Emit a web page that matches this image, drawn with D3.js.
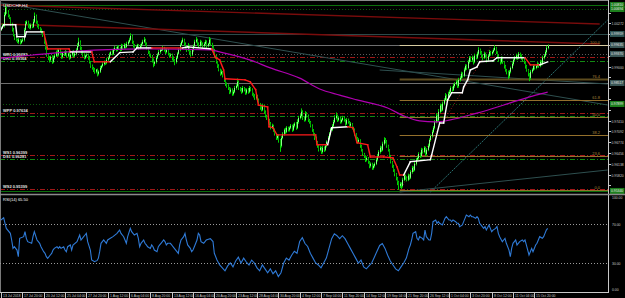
<!DOCTYPE html>
<html>
<head>
<meta charset="utf-8">
<script src="https://cdn.jsdelivr.net/npm/d3@7"></script>
<style>
html, body { margin: 0; padding: 0; background: #000; overflow: hidden; }
svg { display: block; }
text { font-family: "Liberation Sans", Arial, sans-serif; }
</style>
</head>
<body>
<svg width="625" height="298"></svg>
<script>
// USDCHF H4 closes, in pips above 0.95000 (one per bar)
const openFirst = 510;
const closePips = [
  514,520,552,573,561,549,543,526, 508,493,484,479,473,479,470,476,
  479,508,526,532,520,514,523,517, 532,549,532,520,514,508,502,493,
  473,455,435,426,420,429,414,426, 432,443,435,449,438,429,441,435,
  443,432,438,426,435,443,432,438, 449,461,473,455,443,435,426,432,
  435,426,414,402,396,391,385,391, 379,385,396,402,408,414,411,420,
  426,435,443,438,449,455,449,458, 455,449,461,455,464,458,467,473,
  479,490,473,461,455,458,464,455, 461,467,473,479,467,455,443,435,
  432,420,408,414,426,435,443,449, 449,455,449,443,449,438,432,435,
  426,420,414,426,438,449,464,473, 479,467,455,449,461,443,435,449,
  461,473,479,467,461,473,467,461, 467,473,461,467,479,467,461,449,
  432,414,402,391,379,385,373,361, 349,343,337,326,332,320,326,337,
  343,355,337,332,326,337,332,323, 332,326,337,332,320,314,308,314,
  302,291,279,273,285,267,255,249, 243,232,220,226,214,202,190,196,
  184,167,190,202,214,208,220,214, 220,226,214,226,232,220,237,249,
  255,267,249,243,261,255,243,237, 226,214,202,190,179,167,155,161,
  149,161,155,167,179,190,202,214, 226,237,249,255,243,249,237,243,
  249,243,232,243,237,226,232,220, 214,202,190,179,184,167,155,143,
  137,126,131,120,108,114,102,108, 114,126,137,149,161,155,173,184,
  179,167,155,137,120,108,96,84,   73,61,49,55,49,67,79,73,
  67,79,73,90,102,96,114,126,      131,143,137,155,149,161,143,155,
  167,184,196,208,220,237,255,243, 267,285,273,291,302,314,308,320,
  326,337,332,343,349,355,343,361, 367,379,373,391,402,396,414,426,
  420,426,414,432,426,438,449,443, 432,426,438,432,420,432,443,438,
  443,449,455,443,432,420,414,426, 414,402,391,385,373,385,396,408,
  420,426,432,426,438,432,426,420, 414,402,391,379,367,385,391,402,
  396,402,408,402,414,408,426,432, 443,455,461
];
const upWick = [
  4,6,8,10,3,5,4,2, 3,6,2,4,3,5,2,4, 5,6,8,4,3,6,4,3, 8,10,4,3,5,2,4,3,
  3,6,4,2,5,3,4,6, 5,4,8,3,4,6,3,4, 6,3,4,5,3,4,6,3, 5,8,12,4,3,5,4,3,
  4,3,5,2,4,3,5,2, 3,4,6,3,5,4,3,6, 4,6,3,5,4,6,3,5, 4,3,6,4,5,3,6,4,
  6,8,4,3,5,4,3,2, 5,4,6,8,3,4,2,3, 3,2,4,3,5,4,6,3, 4,6,3,4,5,3,2,4,
  3,4,2,5,4,6,5,4, 6,3,4,5,8,3,4,5, 4,6,8,3,4,6,3,4, 5,6,4,3,8,4,3,2,
  3,4,2,5,3,6,2,4, 3,4,5,3,6,4,5,6, 5,10,4,3,5,6,3,4, 4,5,6,3,4,3,5,4,
  3,4,2,5,6,3,4,3, 4,3,5,6,3,4,2,5, 4,3,6,5,4,6,5,3, 4,5,3,6,4,5,8,6,
  6,10,4,3,8,5,4,3, 3,4,2,3,4,2,3,5, 3,6,4,5,4,6,5,6, 5,6,8,10,4,5,3,4,
  6,5,3,6,4,3,5,2, 3,4,2,3,5,2,3,2, 3,2,5,3,2,4,3,5, 4,5,6,5,6,4,6,8,
  6,5,3,2,3,2,3,2, 3,2,3,5,4,6,5,3, 4,6,3,5,6,4,6,5, 6,5,4,6,4,5,3,5,
  6,5,4,6,5,6,8,4, 8,6,4,6,5,8,4,6, 6,5,4,6,5,6,4,6, 5,6,4,6,5,4,6,5,
  4,6,3,6,4,6,8,4, 3,4,6,3,2,5,6,3, 4,5,8,3,2,3,2,4, 3,2,3,2,3,5,4,5,
  4,5,6,3,5,3,4,3, 3,2,3,2,2,5,4,5, 3,4,5,3,6,4,6,5, 5,6,4
];
const dnWick = [
  4,3,5,4,6,4,3,6, 5,4,6,5,4,6,5,3, 4,5,3,4,6,3,5,4, 3,4,6,5,4,6,5,6,
  6,5,6,7,8,5,6,4, 5,4,6,5,4,6,5,4, 4,6,5,6,4,5,6,4, 5,4,3,6,5,6,5,4,
  5,6,5,6,5,7,6,5, 8,5,4,5,4,5,6,4, 5,4,3,5,4,3,5,4, 4,5,3,6,4,5,3,4,
  4,3,6,5,4,5,3,6, 4,5,3,4,6,5,6,5, 6,8,10,6,5,4,3,5, 4,3,5,6,4,5,6,4,
  8,6,10,5,4,3,4,3, 4,6,5,6,4,8,6,4, 5,3,4,6,5,3,5,6, 4,3,6,4,3,5,6,8,
  6,5,6,5,6,4,5,6, 6,5,6,7,5,6,5,4, 5,4,6,5,6,4,5,6, 5,6,4,5,6,5,6,5,
  6,5,6,5,4,6,5,6, 5,6,5,4,6,5,6,5, 8,18,5,4,5,6,4,5, 5,4,6,4,5,6,4,5,
  4,5,6,5,4,5,6,5, 5,6,5,6,5,6,5,4, 6,5,6,4,5,4,5,4, 4,5,4,5,6,4,5,4,
  4,5,6,4,5,6,4,5, 5,6,5,6,4,6,5,6, 6,7,5,6,7,5,6,5, 5,4,5,4,5,6,4,5,
  5,6,5,6,5,6,6,7, 8,10,12,6,10,5,4,6, 5,4,6,4,5,6,4,5, 4,5,6,4,5,4,6,5,
  4,5,4,5,4,5,4,6, 5,4,6,4,5,4,6,5, 6,5,6,4,5,4,6,5, 5,4,6,4,5,6,4,5,
  6,5,8,4,5,4,5,6, 6,8,4,6,8,5,4,6, 5,4,3,6,8,6,8,5, 6,8,6,8,10,6,5,4,
  5,4,5,6,4,5,6,5, 6,8,6,8,10,6,5,4, 5,4,5,6,4,5,4,5, 4,5,4
];

// trailing stop line: bar, pips, direction (1 up / -1 down)
const trailBar  = [0,2,11,12,18,19,32,35,51,52,68,70,82,89,99,102,113,136,140,158,161,164,167,168,183,187,191,193,200,201,204,207,236,237,245,248,260,264,267,275,277,287,294,297,299,302,307,322,323,329,332,335,338,346,347,350,352,357,359,369,372,393,397,404,410];
const trailPips = [508,523,523,488,488,502,502,452,452,443,443,414,414,441,443,455,455,455,458,452,426,420,390,364,361,355,332,287,281,223,220,199,199,170,170,220,223,220,176,170,134,134,131,105,81,81,120,126,140,234,234,302,323,323,340,361,390,399,414,417,426,426,405,405,414];
const trailDir  = [1,1,1,1,1,1,-1,-1,-1,1,-1,-1,1,1,1,1,-1,1,1,-1,-1,-1,-1,-1,-1,-1,-1,-1,-1,-1,-1,-1,-1,-1,1,1,-1,-1,-1,-1,-1,-1,-1,-1,-1,1,1,1,1,1,1,1,1,1,1,1,1,1,1,1,1,-1,-1,1,1];

// slow moving average (magenta)
const maBar  = [0,24,50,74,112,157,164,187,202,224,239,254,267,290,302,314,326,337,357,382,401,410];
const maPips = [425,434,443,449,452,449,443,419,396,366,334,316,302,278,255,240,237,243,263,293,316,325];

// RSI(14)
const rsiBar = [0,2,3,4,7,8,9,10,12,13,14,17,18,19,20,23,24,25,27,28,29,30,32,33,34,35,37,38,39,40,42,43,44,45,47,48,49,50,52,53,54,57,59,60,62,63,64,65,67,68,69,70,72,73,74,75,77,78,79,80,82,84,87,88,89,90,92,93,94,95,97,98,99,100,102,103,104,105,107,108,109,110,112,113,114,115,117,118,119,120,122,123,124,125,127,128,129,130,133,134,135,137,138,139,140,142,143,144,145,147,148,149,150,152,153,154,155,
  157,159,160,162,164,166,168,170,172,174,176,178,180,182,184,186,188,190,192,194,196,198,200,202,204,206,208,210,212,214,216,218,220,222,224,226,228,230,232,234,236,238,240,242,244,246,248,250,252,254,256,258,260,262,264,266,268,270,272,274,276,278,280,282,284,286,288,290,292,294,296,298,300,302,304,306,
  307,308,309,311,312,313,314,316,317,318,319,321,322,323,324,326,327,328,329,331,332,333,334,336,337,338,339,341,342,343,344,346,347,348,349,351,352,353,354,356,357,358,359,361,362,363,364,366,367,368,369,371,372,373,374,376,377,378,379,381,382,383,384,386,387,388,389,391,392,393,394,396,397,398,399,401,402,403,404,406,407,408,409,410];
const rsiVal = [74.1,76.5,70.7,65.5,60.4,53.6,45.0,46.7,43.3,36.5,55.3,57.0,62.1,55.3,51.9,50.2,57.0,62.1,53.6,51.9,50.2,46.7,41.6,39.9,36.5,34.8,38.2,39.9,43.3,45.0,46.7,45.0,46.7,45.0,46.7,43.3,41.6,46.7,48.5,43.3,48.5,51.9,58.7,53.6,57.0,58.7,60.4,51.9,43.3,33.1,32.4,31.4,32.4,34.8,41.6,50.2,53.6,51.9,50.2,53.6,55.3,57.0,60.4,62.1,63.8,60.4,57.0,53.6,50.2,57.0,65.5,62.1,60.4,58.7,60.4,55.3,46.7,50.2,53.6,50.2,48.5,46.7,45.0,48.5,46.7,43.3,41.6,46.7,48.5,50.2,53.6,51.9,48.5,50.2,50.2,48.5,46.7,45.0,39.9,48.5,53.6,57.0,60.4,53.6,48.5,45.0,41.6,43.3,46.7,53.6,60.4,58.7,51.9,50.2,51.9,53.6,54.2,
  55,52,40,33,28,25,22,27,30,26,32,36,30,35,31,28,33,30,25,22,28,24,20,24,19,22,16,20,30,35,33,38,42,40,52,56,50,47,40,35,30,28,25,30,35,45,55,60,58,55,58,55,50,45,40,35,30,33,26,24,27,30,36,42,48,50,45,38,32,28,24,22,26,30,35,45,
  48.5,53.6,60.4,62.1,55.3,53.6,57.0,55.3,53.6,63.8,57.0,53.6,53.6,60.4,72.4,74.1,70.7,72.4,70.7,69.0,72.4,75.8,77.5,74.1,74.1,72.4,74.1,72.4,70.7,70.7,67.3,69.0,72.4,75.8,79.2,77.5,79.2,77.5,77.5,75.8,77.5,75.8,70.7,67.3,65.5,67.3,63.8,69.0,65.5,62.1,63.8,65.5,67.3,60.4,57.0,51.9,53.6,55.3,50.2,43.3,36.5,45.0,50.2,53.6,48.5,50.2,51.9,53.6,51.9,53.6,48.5,38.2,41.6,45.0,41.6,48.5,50.2,53.6,57.0,55.3,57.0,60.4,63.8,65.5];

// horizontal line objects
const levelPrices = [1.00810, 1.00694, 0.99959, 0.99635, 0.99370, 0.98517, 0.97899, 0.95340];
const levelKinds  = ["green", "greenDot", "slate", "gray", "grayDot", "gray", "greenDot", "green"];

// pivot levels (red / green dash-dot) with their names
const pivotPrices = [0.99282, 0.99164, 0.97634, 0.97546, 0.96399, 0.96281, 0.95399];
const pivotSide   = ["R", "G", "R", "G", "R", "G", "R"];
const pivotNames  = ["WR1 0.99282", "DR1 0.99164", "WPP 0.97634", "", "WS1 0.96399", "DS1 0.96281", "WS2 0.95399"];

// fibonacci retracement
const fibLow = 0.95370, fibHigh = 0.99640, fibStartBar = 299;
const fibLevels = [0, 0.236, 0.382, 0.5, 0.618, 0.764, 1];
const fibNames  = ["0.0", "23.6", "38.2", "50.0", "61.8", "76.4", "100.0"];

// trendlines: bar1, price1, bar2, price2
const trendB1 = [0, 0, 0, 299, 322, 299, 284];
const trendP1 = [1.00871, 1.00812, 1.00253, 0.95368, 0.95309, 0.95309, 0.98899];
const trendB2 = [455, 449, 449, 367, 455, 455, 455];
const trendP2 = [0.97869, 1.00253, 0.99664, 0.99576, 1.00370, 0.95957, 0.98487];
const trendKinds = ["slate", "red", "red", "redDot", "cyanDot", "slate", "slate"];

const priceTicks = [1.00590,1.00272,0.99954,0.99636,0.99318,0.99000,0.98682,0.98364,0.98046,0.97728,0.97410,0.97092,0.96774,0.96456,0.96138,0.95820,0.95502];
const rsiTicks = [100, 70, 30, 0];
const timeLabels = ["13 Jul 2018","17 Jul 20:00","20 Jul 12:00","25 Jul 04:00","27 Jul 20:00","1 Aug 12:00","6 Aug 04:00","8 Aug 20:00","13 Aug 12:00","16 Aug 04:00","20 Aug 20:00","23 Aug 12:00","28 Aug 04:00","30 Aug 20:00","4 Sep 12:00","7 Sep 04:00","11 Sep 20:00","14 Sep 12:00","19 Sep 04:00","21 Sep 20:00","26 Sep 12:00","1 Oct 04:00","3 Oct 20:00","8 Oct 12:00","11 Oct 04:00","15 Oct 20:00"];
const labelEvery = 16;

// ---------------------------------------------------------------

const BASE = 0.95;
const pip = v => BASE + v / 10000;
const RIGHT = 608;
const FS = 3.4;   // axis text is tiny on this chart

const svg = d3.select("svg");
const x = d3.scaleLinear().domain([0, 455]).range([1, 1 + 455 * 4 / 3]);
const y = d3.scaleLinear().domain([0.95280, 1.00900]).range([193, 2]);
const yr = d3.scaleLinear().domain([0, 100]).range([292.25, 194.75]);

const defs = svg.append("defs");
defs.append("clipPath").attr("id", "cMain").append("rect").attr("x", 0).attr("y", 0).attr("width", RIGHT).attr("height", 193);
defs.append("clipPath").attr("id", "cRsi").append("rect").attr("x", 0).attr("y", 196).attr("width", RIGHT).attr("height", 96);

svg.append("rect").attr("width", 625).attr("height", 298).attr("fill", "#000");

const main = svg.append("g").attr("clip-path", "url(#cMain)");

function label(g, tx, ty, str, col, anchor) {
  return g.append("text").attr("x", tx).attr("y", ty).attr("fill", col)
    .attr("font-size", FS).attr("text-anchor", anchor || "start").text(str);
}

// horizontal line objects
const levelStyle = {
  green:    { stroke: "#0b6e0b", dash: null, box: "#1d7f1d" },
  greenDot: { stroke: "#0e5a0e", dash: "1,2", box: "#1d7f1d" },
  slate:    { stroke: "#2c4a4a", dash: null, box: "#2f5555" },
  gray:     { stroke: "#6f6f6f", dash: null, box: "#3a5656" },
  grayDot:  { stroke: "#5a5a5a", dash: "1,2", box: "#3a5656" }
};
main.append("line").attr("x1", 0).attr("x2", RIGHT).attr("y1", 0.5).attr("y2", 0.5).attr("stroke", "#8a8a8a");
levelPrices.forEach((p, i) => {
  const s = levelStyle[levelKinds[i]];
  main.append("line")
    .attr("x1", 0).attr("x2", RIGHT)
    .attr("y1", Math.round(y(p)) + 0.5).attr("y2", Math.round(y(p)) + 0.5)
    .attr("stroke", s.stroke).attr("stroke-width", 1)
    .attr("stroke-dasharray", s.dash);
});

// pivots
pivotPrices.forEach((p, i) => {
  const yy = Math.round(y(p)) + 0.5;
  main.append("line")
    .attr("x1", 0).attr("x2", RIGHT).attr("y1", yy).attr("y2", yy)
    .attr("stroke", pivotSide[i] === "R" ? "#a01818" : "#128a12")
    .attr("stroke-width", 1.2)
    .attr("stroke-dasharray", "5,2,1,2");
  if (pivotNames[i]) {
    main.append("text").attr("x", 3).attr("y", yy - 1.5)
      .attr("fill", "#e0e0e0").attr("font-size", 4).attr("font-weight", "bold")
      .text(pivotNames[i]);
  }
});

// trendlines
const trendStyle = {
  slate:   { stroke: "#2e4f4f", w: 1, dash: null },
  red:     { stroke: "#7a0c0c", w: 1.4, dash: null },
  redDot:  { stroke: "#8a1a1a", w: 1, dash: "1,2" },
  cyanDot: { stroke: "#2a7070", w: 1, dash: "2,1" }
};
trendKinds.forEach((k, i) => {
  const s = trendStyle[k];
  main.append("line")
    .attr("x1", x(trendB1[i])).attr("y1", y(trendP1[i]))
    .attr("x2", x(trendB2[i])).attr("y2", y(trendP2[i]))
    .attr("stroke", s.stroke).attr("stroke-width", s.w)
    .attr("stroke-dasharray", s.dash);
});

// fibonacci levels
fibLevels.forEach((f, i) => {
  const p = fibLow + (fibHigh - fibLow) * f;
  const yy = Math.round(y(p)) + 0.5;
  main.append("line")
    .attr("x1", x(fibStartBar)).attr("x2", RIGHT).attr("y1", yy).attr("y2", yy)
    .attr("stroke", f === 1 ? "#d6cba2" : (f === 0.764 ? "#5e4c1e" : "#94702c"))
    .attr("stroke-width", f === 0.764 ? 2 : 1);
  main.append("text").attr("x", 600).attr("y", yy - 1.5).attr("text-anchor", "end")
    .attr("fill", "#a8843a").attr("font-size", 4).text(fibNames[i]);
});

// candles
const candles = closePips.map((c, i) => {
  const o = i ? closePips[i - 1] : openFirst;
  return { i, o: pip(o), c: pip(c), h: pip(Math.max(o, c) + upWick[i]), l: pip(Math.min(o, c) - dnWick[i]) };
});
const cg = main.append("g");
cg.selectAll("line").data(candles).enter().append("line")
  .attr("x1", d => Math.round(x(d.i)) + 0.5).attr("x2", d => Math.round(x(d.i)) + 0.5)
  .attr("y1", d => y(d.h)).attr("y2", d => y(d.l))
  .attr("stroke", "#00d400").attr("stroke-width", 1);
cg.selectAll("rect").data(candles).enter().append("rect")
  .attr("x", d => Math.round(x(d.i)))
  .attr("width", 1)
  .attr("y", d => y(Math.max(d.o, d.c)))
  .attr("height", d => Math.max(1, Math.abs(y(d.o) - y(d.c))))
  .attr("fill", d => d.c >= d.o ? "#8cff8c" : "#00a800");

// moving average
main.append("path")
  .datum(maBar.map((b, i) => [b, pip(maPips[i])]))
  .attr("fill", "none").attr("stroke", "#b000b0").attr("stroke-width", 1.2)
  .attr("d", d3.line().x(d => x(d[0])).y(d => y(d[1])).curve(d3.curveMonotoneX));

// trailing stop
for (let i = 0; i < trailBar.length - 1; i++) {
  main.append("line")
    .attr("x1", x(trailBar[i])).attr("y1", y(pip(trailPips[i])))
    .attr("x2", x(trailBar[i + 1])).attr("y2", y(pip(trailPips[i + 1])))
    .attr("stroke", trailDir[i] > 0 ? "#ffffff" : "#ff1a1a")
    .attr("stroke-width", 1.4).attr("stroke-linecap", "square");
}

main.append("text").attr("x", 3).attr("y", 7).attr("fill", "#ffffff").attr("font-size", 4.4).text("USDCHF,H4");

// price axis
svg.append("line").attr("x1", RIGHT + 0.5).attr("x2", RIGHT + 0.5).attr("y1", 0).attr("y2", 292)
  .attr("stroke", "#c8c8c8");
svg.append("line").attr("x1", 0.5).attr("x2", 0.5).attr("y1", 0).attr("y2", 292).attr("stroke", "#7a7a7a");
const boxYs = levelPrices.map(p => y(p));
priceTicks.forEach(p => {
  const yy = Math.round(y(p)) + 0.5;
  svg.append("line").attr("x1", RIGHT).attr("x2", RIGHT + 3).attr("y1", yy).attr("y2", yy).attr("stroke", "#c8c8c8");
  if (boxYs.some(b => Math.abs(b - yy) < 7)) return;   // covered by an object's price box
  label(svg, 611.5, yy + 1.3, p.toFixed(5), "#c8c8c8");
});
levelPrices.forEach((p, i) => {
  const s = levelStyle[levelKinds[i]];
  const yy = y(p);
  svg.append("rect").attr("x", 610).attr("y", yy - 3).attr("width", 14.5).attr("height", 6).attr("fill", s.box);
  label(svg, 611, yy + 1.3, p.toFixed(5), "#e8e8e8");
});

// separator between windows
svg.append("line").attr("x1", 0).attr("x2", 625).attr("y1", 194.5).attr("y2", 194.5).attr("stroke", "#8a8a8a").attr("stroke-width", 1.5);

// RSI window
const rg = svg.append("g").attr("clip-path", "url(#cRsi)");
[70, 30].forEach(v => {
  rg.append("line").attr("x1", 0).attr("x2", RIGHT).attr("y1", Math.round(yr(v)) + 0.5).attr("y2", Math.round(yr(v)) + 0.5)
    .attr("stroke", "#9a9a9a").attr("stroke-dasharray", "1,2");
});
rg.append("path")
  .datum(rsiBar.map((b, i) => [b, rsiVal[i]]))
  .attr("fill", "none").attr("stroke", "#2f7ad6").attr("stroke-width", 1.1)
  .attr("d", d3.line().x(d => x(d[0])).y(d => yr(d[1])));
svg.append("text").attr("x", 3).attr("y", 201).attr("fill", "#ffffff").attr("font-size", 4)
  .text("RSI(14) " + rsiVal[rsiVal.length - 1].toFixed(2));
rsiTicks.forEach(v => {
  const yy = Math.round(yr(v)) + 0.5;
  label(svg, 612, Math.min(Math.max(yy + 1.3, 199), 291), v.toFixed(2), "#c8c8c8");
});

// time axis
svg.append("line").attr("x1", 0).attr("x2", RIGHT + 1).attr("y1", 292.5).attr("y2", 292.5).attr("stroke", "#c8c8c8");
timeLabels.forEach((t, i) => {
  const xx = Math.round(x(i * labelEvery)) + 0.5;
  svg.append("line").attr("x1", xx).attr("x2", xx).attr("y1", 292).attr("y2", 298).attr("stroke", "#c8c8c8");
  label(svg, xx + 1.5, 297.3, t, "#c8c8c8");
});
</script>
</body>
</html>
